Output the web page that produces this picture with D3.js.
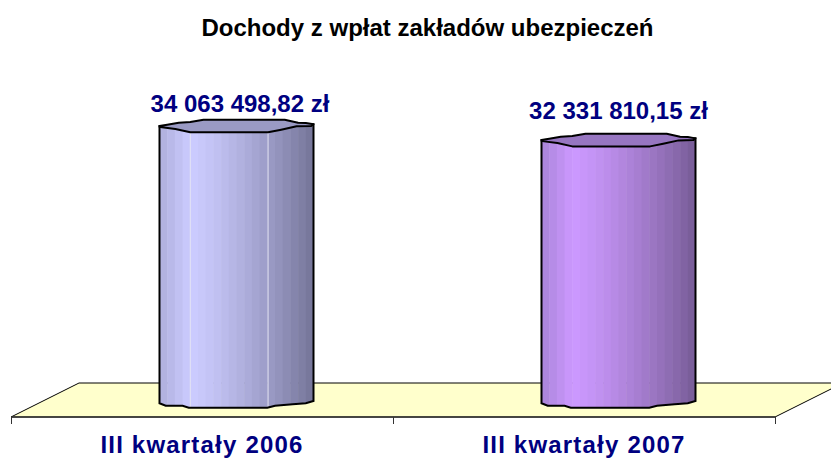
<!doctype html>
<html>
<head>
    <meta charset="utf-8"/>
    <style>
        html, body { margin: 0; background: #fff; }
        svg { display: block; }
        text { font-family: 'Liberation Sans', Arial, sans-serif; font-weight: bold; }
    </style>
    <script src="https://d3js.org/d3.v7.min.js"></script>
</head>
<body>
<svg width="831" height="459"></svg>
<script>
    var title = "Dochody z wpłat zakładów ubezpieczeń";
    var categories = ["III kwartały 2006", "III kwartały 2007"];
    var values = [34063498.82, 32331810.15];
    var valueLabels = ["34 063 498,82 zł", "32 331 810,15 zł"];
    var edgeColours = ["#aeaedc", "#a884d8"];
    var peakColours = ["#ccccff", "#cc99ff"];
    var shadeColours = ["#747498", "#775c96"];

    var floorFront = 417, depthX = 68, depthY = 34, cylWidth = 154, barBase = 403;
    // the value labels were placed by hand in the original
    var labelShift = [3.5, 0];
    var labelLift = [14, 21];

    var svg = d3.select("svg");

    var x = d3.scaleBand().domain(categories).range([11, 775]);
    var y = d3.scaleLinear().domain([0, d3.max(values)]).range([barBase, 126]);

    // faceted outline of the cylinder ends: fraction of the width, px from the corner
    var backRim = [[0, 0], [0.05, -1.3], [0.125, -3.3], [0.2, -4], [0.286, -6.3], [0.813, -6.3], [0.9, -3.3], [0.95, -3], [1, -1.7]];
    var frontRim = [[1, -1.7], [0.985, 0], [0.89, 0.3], [0.79, 3.7], [0.705, 6.3], [0.2, 6.3], [0.103, 3], [0.017, 1.3], [0, 0.7]];
    var bottomRim = [[1, -2], [0.95, 0.3], [0.865, 1.3], [0.75, 2.7], [0.7, 4.7], [0.19, 4.7], [0.15, 2.7], [0.04, 2.7], [0, 0.3]];

    var line = d3.line().x(function(d) { return d[0]; }).y(function(d) { return d[1]; });

    // floor
    svg.append("path")
        .attr("d", line([[x.range()[0], floorFront], [x.range()[0] + depthX, floorFront - depthY],
            [x.range()[1] + depthX, floorFront - depthY], [x.range()[1], floorFront]]) + "Z")
        .attr("fill", "#ffffcc")
        .attr("stroke", "#000")
        .attr("stroke-width", 1);
    svg.append("path")
        .attr("d", line([[x.range()[0], floorFront], [x.range()[1], floorFront]]))
        .attr("stroke", "#333")
        .attr("stroke-width", 1.5);

    // x axis ticks at the band edges
    categories.concat([null]).forEach(function(c) {
        var tx = c === null ? x.range()[1] : x(c);
        svg.append("line")
            .attr("x1", tx + 0.5).attr("x2", tx + 0.5)
            .attr("y1", floorFront).attr("y2", floorFront + 7)
            .attr("stroke", "#333");
    });

    var defs = svg.append("defs");

    categories.forEach(function(c, i) {
        var left = x(c) + x.bandwidth() / 2 + depthX / 2 - cylWidth / 2 + 0.5;
        var topY = y(values[i]);

        function rim(points, baseY) {
            return points.map(function(p) {
                return [left + p[0] * cylWidth, baseY + p[1]];
            });
        }

        var body = [[left, topY], [left + cylWidth, topY - 1.7]].concat(rim(bottomRim, barBase));

        defs.append("clipPath").attr("id", "clip" + i)
            .append("path").attr("d", line(body) + "Z");

        // body filled with narrow flat stripes
        var g = svg.append("g").attr("clip-path", "url(#clip" + i + ")");
        var stripes = 20;
        var stripeW = cylWidth / stripes;
        var peak = 0.2;
        var toPeak = d3.interpolateRgb(edgeColours[i], peakColours[i]);
        var toShade = d3.interpolateRgb(peakColours[i], shadeColours[i]);
        g.selectAll("rect").data(d3.range(stripes)).enter().append("rect")
            .attr("x", function(d) { return left + d * stripeW; })
            .attr("y", topY - 8)
            .attr("width", stripeW + 0.5)
            .attr("height", barBase - topY + 20)
            .attr("fill", function(d) {
                var t = (d + 0.5) / stripes;
                return t < peak ? toPeak(t / peak) : toShade(Math.pow((t - peak) / (1 - peak), 1.3));
            });

        // pale facet lines on the first cylinder
        if (i === 0) {
            [0.2, 0.705].forEach(function(f) {
                g.append("line")
                    .attr("x1", left + f * cylWidth).attr("x2", left + f * cylWidth)
                    .attr("y1", topY).attr("y2", barBase + 6)
                    .attr("stroke", "#e4e4f4")
                    .attr("stroke-width", 1);
            });
        }

        // body outline
        svg.append("path")
            .attr("d", line(body) + "Z")
            .attr("fill", "none")
            .attr("stroke", "#000")
            .attr("stroke-width", 2);

        // top face
        var topFace = rim(backRim, topY).concat(rim(frontRim, topY).slice(1));
        svg.append("path")
            .attr("d", line(topFace) + "Z")
            .attr("fill", d3.interpolateRgb(edgeColours[i], shadeColours[i])(0.35))
            .attr("stroke", "#000")
            .attr("stroke-width", 2)
            .attr("stroke-linejoin", "round");

        // value label
        svg.append("text")
            .attr("x", left + cylWidth / 2 + labelShift[i])
            .attr("y", topY - labelLift[i])
            .attr("text-anchor", "middle")
            .attr("font-size", 24)
            .attr("fill", "#000080")
            .text(valueLabels[i]);

        // category label
        svg.append("text")
            .attr("x", x(c) + x.bandwidth() / 2)
            .attr("y", 453)
            .attr("text-anchor", "middle")
            .attr("font-size", 24)
            .attr("letter-spacing", 1.2)
            .attr("fill", "#000080")
            .text(c);
    });

    svg.append("text")
        .attr("x", 427.5)
        .attr("y", 36)
        .attr("text-anchor", "middle")
        .attr("font-size", 24)
        .attr("fill", "#000")
        .text(title);
</script>
</body>
</html>
